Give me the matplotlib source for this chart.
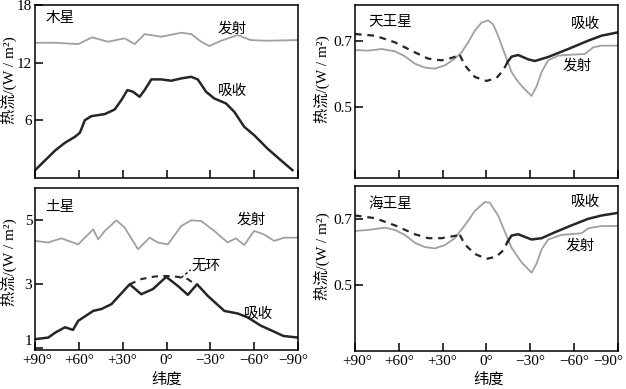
import matplotlib
matplotlib.use("Agg")
import matplotlib.pyplot as plt
from matplotlib.transforms import ScaledTranslation

plt.rcParams['font.family'] = ['Liberation Serif', 'Noto Sans CJK SC', 'DejaVu Sans']
plt.rcParams['axes.unicode_minus'] = True

# ---------------- data ----------------
# Jupiter
jup_em_lat = [90, 76, 60.5, 51, 40, 28.6, 21.8, 15, 3.6, -10, -17, -23.7, -29.3, -37.3, -48.7, -57.7, -69, -90]
jup_em_val = [14.08, 14.08, 13.94, 14.64, 14.19, 14.54, 13.94, 14.98, 14.71, 15.12, 14.98, 14.19, 13.74, 14.29, 14.88, 14.36, 14.29, 14.36]
jup_ab_lat = [90, 83, 76, 69.5, 62.7, 59.3, 55.9, 51.4, 42.3, 35.5, 30.9, 26.8, 22.9, 18.4, 15, 10.4, 3.6, -3.2, -10, -16.8, -21.4, -27.1, -32.7, -40.7, -46.4, -53.2, -60, -69.1, -78.2, -86.2]
jup_ab_val = [0.83, 1.87, 2.91, 3.68, 4.3, 4.72, 6.03, 6.45, 6.66, 7.14, 8.12, 9.16, 8.98, 8.46, 9.16, 10.27, 10.27, 10.13, 10.37, 10.54, 10.27, 8.98, 8.29, 7.77, 6.9, 5.34, 4.47, 3.08, 1.87, 0.83]

# Saturn
sat_em_lat = [90, 81, 72, 60.5, 50.2, 46.8, 42.3, 34.3, 28.6, 19.5, 11.6, 5.9, -0.9, -10, -16.8, -23.7, -32.7, -41.8, -47.5, -53.2, -60, -66.8, -73.7, -80.5, -90]
sat_em_val = [4.35, 4.3, 4.43, 4.24, 4.71, 4.4, 4.66, 4.99, 4.76, 4.09, 4.45, 4.3, 4.24, 4.81, 4.99, 4.97, 4.66, 4.3, 4.43, 4.22, 4.66, 4.55, 4.35, 4.45, 4.45]
sat_ab_lat = [90, 81, 76, 69.5, 64, 60.5, 50.2, 44.5, 37.7, 25.2, 17.3, 9.3, 0.2, -7.7, -14.6, -20.9, -28.2, -39.6, -48.7, -55.5, -64.6, -70, -80, -90]
sat_ab_val = [1.29, 1.34, 1.5, 1.66, 1.58, 1.86, 2.17, 2.23, 2.38, 3.0, 2.69, 2.85, 3.23, 2.95, 2.67, 3.0, 2.64, 2.17, 2.09, 1.97, 1.71, 1.6, 1.39, 1.34]
sat_noring_lat = [25.2, 17.3, 8.2, 0.2, -7.7, -14.6, -18]
sat_noring_val = [3.0, 3.16, 3.24, 3.26, 3.23, 3.16, 3.05]

# Uranus
ura_em_lat = [90, 80.9, 71.8, 62.6, 55.8, 49, 42.1, 35.3, 28.4, 21.6, 17, 12.5, 7.9, 3.4, -1.2, -4.6, -8, -12.6, -17.2, -21.7, -26.3, -30.9, -34.3, -37.8, -42.3, -49.2, -58.3, -67.4, -73.1, -78.8, -90]
ura_em_val = [0.672, 0.67, 0.675, 0.668, 0.653, 0.631, 0.619, 0.616, 0.626, 0.646, 0.665, 0.695, 0.73, 0.754, 0.761, 0.749, 0.715, 0.66, 0.606, 0.576, 0.554, 0.534, 0.562, 0.606, 0.641, 0.655, 0.658, 0.66, 0.68, 0.685, 0.685]
ura_abd1_lat = [90, 76.3, 62.6, 49, 39.8, 30.7, 23.9, 18.2]
ura_abd1_val = [0.72, 0.715, 0.695, 0.665, 0.646, 0.641, 0.648, 0.657]
ura_abd2_lat = [18.2, 14.8, 7.9, -0.1, -6.9, -11.5, -14.5]
ura_abd2_val = [0.657, 0.626, 0.591, 0.579, 0.588, 0.611, 0.636]
ura_ab_lat = [-14.5, -17.2, -21.7, -28.6, -33.2, -42.3, -56, -69.7, -78.8, -90]
ura_ab_val = [0.636, 0.652, 0.657, 0.644, 0.639, 0.651, 0.675, 0.7, 0.715, 0.725]

# Neptune
nep_em_lat = [90, 80.9, 69.5, 62.6, 55.8, 49, 42.1, 35.3, 28.4, 21.6, 14.8, 7.9, 1.1, -2.3, -8, -12.6, -17.2, -24, -30.9, -34.3, -37.8, -42.3, -51.4, -65.1, -69.7, -78.8, -90]
nep_em_val = [0.663, 0.666, 0.673, 0.666, 0.651, 0.627, 0.614, 0.61, 0.62, 0.641, 0.68, 0.724, 0.751, 0.749, 0.71, 0.661, 0.612, 0.568, 0.536, 0.563, 0.607, 0.637, 0.651, 0.656, 0.671, 0.678, 0.678]
nep_abd1_lat = [90, 76.3, 62.6, 49, 39.8, 30.7, 21.6, 18.2]
nep_abd1_val = [0.71, 0.702, 0.68, 0.653, 0.641, 0.641, 0.648, 0.651]
nep_abd2_lat = [18.2, 14.8, 7.9, -0.1, -6.9, -11.5, -14.5]
nep_abd2_val = [0.651, 0.622, 0.593, 0.578, 0.585, 0.604, 0.63]
nep_ab_lat = [-14.5, -17.2, -21.7, -30.9, -37.8, -46.9, -58.3, -69.7, -78.8, -90]
nep_ab_val = [0.63, 0.649, 0.653, 0.637, 0.641, 0.659, 0.68, 0.7, 0.71, 0.718]

xticks = [90, 60, 30, 0, -30, -60, -90]
xticklabels = ['+90°', '+60°', '+30°', '0°', '−30°', '−60°', '−90°']

EM = '#a0a0a0'
AB = '#262626'
DASH = (0, (3, 2.6))

fig = plt.figure(figsize=(6.26, 3.89), dpi=100)
W = 0.42
ax_j = fig.add_axes([0.056, 0.542, W, 0.445])
ax_s = fig.add_axes([0.056, 0.100, W, 0.417])
ax_u = fig.add_axes([0.567, 0.542, W, 0.445])
ax_n = fig.add_axes([0.567, 0.098, W, 0.424])

def style(ax, ylim, yt, ytl, bottom, shift_last, low_label_up=False):
    ax.set_xlim(90, -90)
    ax.set_ylim(*ylim)
    ax.set_xticks(xticks)
    ax.set_yticks(yt)
    ax.tick_params(direction='in', length=6, width=1.1, pad=3)
    ax.tick_params(axis='y', pad=2)
    ax.set_yticklabels(ytl, fontsize=11)
    if low_label_up:
        ax.yaxis.get_major_ticks()[0].label1.set_verticalalignment('bottom')
    if bottom:
        ax.set_xticklabels(xticklabels, fontsize=11)
        ticks = ax.xaxis.get_major_ticks()
        lab = ticks[-1].label1
        lab.set_transform(lab.get_transform() +
                          ScaledTranslation(-shift_last / 100, 0, fig.dpi_scale_trans))
        lab0 = ticks[0].label1
        lab0.set_transform(lab0.get_transform() +
                           ScaledTranslation(2 / 100, 0, fig.dpi_scale_trans))
    else:
        ax.set_xticklabels([])
    for s in ax.spines.values():
        s.set_linewidth(1.1)

# Jupiter
ax_j.plot(jup_em_lat, jup_em_val, color=EM, lw=1.3)
ax_j.plot(jup_ab_lat, jup_ab_val, color=AB, lw=1.8)
style(ax_j, (0, 18), [6, 12, 18], ['6', '12', '18'], False, 0)
ax_j.text(0.04, 0.92, '木星', transform=ax_j.transAxes, fontsize=10.5, va='center')
ax_j.text(-35, 15.5, '发射', fontsize=10.5, ha='left', va='center')
ax_j.text(-35, 9.05, '吸收', fontsize=10.5, ha='left', va='center')

# Saturn
ax_s.plot(sat_em_lat, sat_em_val, color=EM, lw=1.3)
ax_s.plot(sat_ab_lat, sat_ab_val, color=AB, lw=1.8)
ax_s.plot(sat_noring_lat, sat_noring_val, color=AB, lw=1.5, ls=DASH)
ax_s.plot([-10, -16.5], [3.2, 3.45], color=AB, lw=1.1, ls=(0, (2, 1.5)))
ax_s.text(-17, 3.58, '无环', fontsize=10.5, ha='left', va='center')
style(ax_s, (0.95, 6.0), [1, 3, 5], ['1', '3', '5'], True, 5, low_label_up=True)
ax_s.text(0.04, 0.88, '土星', transform=ax_s.transAxes, fontsize=10.5, va='center')
ax_s.text(-48, 5.0, '发射', fontsize=10.5, ha='left', va='center')
ax_s.text(-53, 2.05, '吸收', fontsize=10.5, ha='left', va='center')

# Uranus
ax_u.plot(ura_em_lat, ura_em_val, color=EM, lw=1.3)
ax_u.plot(ura_abd1_lat, ura_abd1_val, color=AB, lw=1.6, ls=DASH)
ax_u.plot(ura_abd2_lat, ura_abd2_val, color=AB, lw=1.6, ls=DASH)
ax_u.plot(ura_ab_lat, ura_ab_val, color=AB, lw=1.8)
style(ax_u, (0.287, 0.807), [0.5, 0.7], ['0.5', '0.7'], False, 0)
ax_u.text(0.05, 0.9, '天王星', transform=ax_u.transAxes, fontsize=10.5, va='center')
ax_u.text(-58, 0.748, '吸收', fontsize=10.5, ha='left', va='center')
ax_u.text(-52, 0.625, '发射', fontsize=10.5, ha='left', va='center')

# Neptune
ax_n.plot(nep_em_lat, nep_em_val, color=EM, lw=1.3)
ax_n.plot(nep_abd1_lat, nep_abd1_val, color=AB, lw=1.6, ls=DASH)
ax_n.plot(nep_abd2_lat, nep_abd2_val, color=AB, lw=1.6, ls=DASH)
ax_n.plot(nep_ab_lat, nep_ab_val, color=AB, lw=1.8)
style(ax_n, (0.298, 0.8), [0.5, 0.7], ['0.5', '0.7'], True, 10)
ax_n.text(0.05, 0.89, '海王星', transform=ax_n.transAxes, fontsize=10.5, va='center')
ax_n.text(-58, 0.75, '吸收', fontsize=10.5, ha='left', va='center')
ax_n.text(-54, 0.618, '发射', fontsize=10.5, ha='left', va='center')

ylab = '热流/(W / m²)'
for (x, y) in [(9, 80), (9, 262), (322, 79), (322, 256)]:
    fig.text(x / 626, 1 - y / 389, ylab, rotation=90, fontsize=11,
             ha='center', va='center')

fig.text(167 / 626, 1 - 380 / 389, '纬度', fontsize=11, ha='center', va='center')
fig.text(489 / 626, 1 - 380 / 389, '纬度', fontsize=11, ha='center', va='center')

fig.savefig('out.png', dpi=100)
